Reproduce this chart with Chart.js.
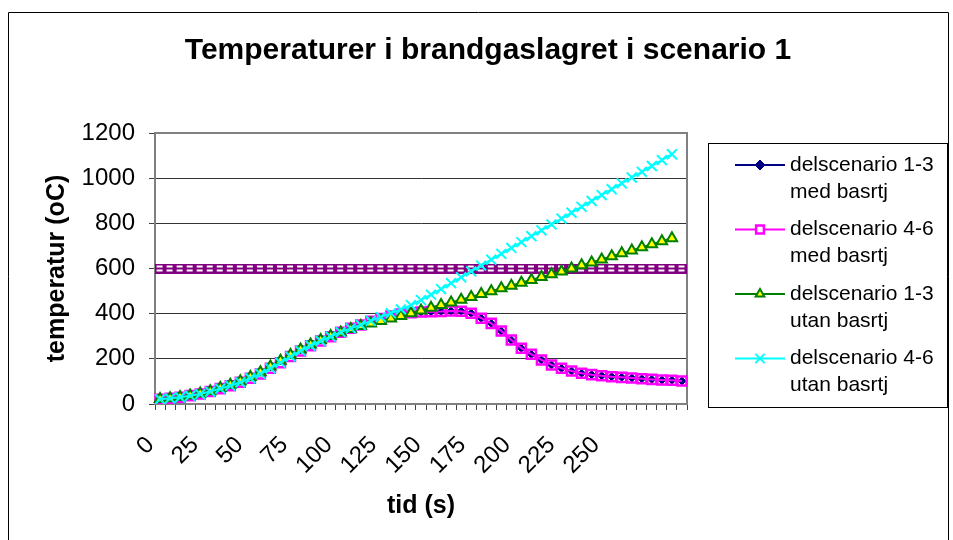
<!DOCTYPE html>
<html>
<head>
<meta charset="utf-8">
<title>Temperaturer i brandgaslagret i scenario 1</title>
<script src="https://cdn.jsdelivr.net/npm/chart.js@4/dist/chart.umd.min.js"></script>
<style>
  html, body { margin: 0; padding: 0; background: #ffffff; }
  #ram { width: 953px; height: 540px; }
</style>
</head>
<body>
<div id="ram"><canvas id="diagram" width="953" height="540"></canvas></div>
<script>
// Mätpunkter längs tidsaxeln (kategorier)
const matpunkter = [
  1, 2, 3, 4, 5, 6, 7, 8, 9, 10, 11, 12, 13, 14, 15, 16, 17, 18, 19, 20,
  21, 22, 23, 24, 25, 26, 27, 28, 29, 30, 31, 32, 33, 34, 35, 36, 37, 38, 39, 40,
  41, 42, 43, 44, 45, 46, 47, 48, 49, 50, 51, 52, 53
];

// Etiketter på tidsaxeln (s)
const tidEtiketter = [0, 25, 50, 75, 100, 125, 150, 175, 200, 225, 250];

// Etiketter på temperaturaxeln (oC)
const tempEtiketter = [0, 200, 400, 600, 800, 1000, 1200];

// Seriernas namn i förklaringen, en rad per element
const namn13Med = ['delscenario 1-3', 'med basrtj'];
const namn46Med = ['delscenario 4-6', 'med basrtj'];
const namn13Utan = ['delscenario 1-3', 'utan basrtj'];
const namn46Utan = ['delscenario 4-6', 'utan basrtj'];

// Temperatur i brandgaslagret (oC)
const delsc13Med = [
  22, 26, 31, 38, 46, 57, 71, 85, 101, 120, 141, 166, 191, 217, 241, 263, 283, 301, 318, 334,
  349, 365, 378, 389, 398, 404, 407, 409, 410, 412, 411, 402, 380, 357, 323, 283, 247, 220, 195, 173,
  158, 146, 136, 130, 125, 121, 118, 115, 112, 109, 106, 105, 102
];
const delsc46Med = [
  21, 25, 30, 37, 44, 55, 68, 81, 96, 114, 133, 158, 183, 210, 235, 258, 279, 298, 318, 335,
  350, 366, 379, 390, 398, 404, 407, 409, 410, 412, 411, 402, 380, 357, 323, 283, 247, 220, 195, 173,
  158, 146, 136, 130, 125, 121, 118, 115, 112, 109, 106, 105, 102
];
const delsc13Utan = [
  22, 26, 31, 38, 46, 57, 71, 85, 101, 120, 141, 166, 191, 217, 241, 263, 283, 301, 317, 332,
  345, 357, 368, 379, 390, 402, 414, 426, 438, 450, 462, 474, 487, 499, 512, 524, 537, 549, 562, 574,
  587, 600, 614, 627, 640, 654, 667, 680, 694, 707, 721, 734
];
const delsc46Utan = [
  21, 25, 30, 37, 44, 55, 68, 81, 96, 114, 133, 158, 183, 210, 235, 258, 279, 298, 318, 335,
  350, 368, 385, 402, 419, 438, 460, 484, 509, 535, 561, 587, 613, 639, 665, 691, 717, 743, 769, 795,
  821, 847, 873, 899, 925, 951, 977, 1003, 1028, 1054, 1080, 1106
];
// Gränsvärde 600 oC
const gransTemp = [
  600, 600, 600, 600, 600, 600, 600, 600, 600, 600, 600, 600, 600, 600, 600, 600, 600, 600, 600, 600,
  600, 600, 600, 600, 600, 600, 600, 600, 600, 600, 600, 600, 600, 600, 600, 600, 600, 600, 600, 600,
  600, 600, 600, 600, 600, 600, 600, 600, 600, 600, 600, 600, 600
];

const FONT = '"Liberation Sans", Arial, Helvetica, sans-serif';

// Ihålig fyrkant med streck genom mitten för gränsvärdeslinjen
function gransMarkor() {
  const c = document.createElement('canvas');
  c.width = 11; c.height = 10;
  const g = c.getContext('2d');
  g.fillStyle = '#800080';
  g.fillRect(0, 0, 11, 10);
  g.fillStyle = '#ffffff';
  g.fillRect(2, 2, 6, 2);
  g.fillRect(2, 6, 6, 2);
  return c;
}

// Ram, rubrik och förklaringsruta
const ramOchForklaring = {
  id: 'ramOchForklaring',
  afterDraw(chart, args, o) {
    const ctx = chart.ctx;
    ctx.save();
    // yttre ram
    ctx.strokeStyle = '#000000';
    ctx.lineWidth = 1;
    ctx.beginPath();
    ctx.moveTo(o.ram.left + 0.5, chart.height + 2);
    ctx.lineTo(o.ram.left + 0.5, o.ram.top + 0.5);
    ctx.lineTo(o.ram.right + 0.5, o.ram.top + 0.5);
    ctx.lineTo(o.ram.right + 0.5, chart.height + 2);
    ctx.stroke();

    // rubrik
    ctx.fillStyle = '#000000';
    ctx.font = 'bold ' + o.rubrik.size + 'px ' + FONT;
    ctx.textAlign = 'center';
    ctx.textBaseline = 'middle';
    ctx.fillText(o.rubrik.text, o.rubrik.x, o.rubrik.y);

    // förklaringsruta
    const f = o.forklaring;
    ctx.strokeStyle = '#000000';
    ctx.lineWidth = 1;
    ctx.strokeRect(f.left + 0.5, f.top + 0.5, f.width, f.height);
    let y = f.firstY;
    chart.data.datasets.forEach(ds => {
      if (!ds.namnRader) return;
      ctx.strokeStyle = ds.borderColor;
      ctx.lineWidth = ds.borderWidth;
      ctx.beginPath();
      ctx.moveTo(f.lineX0, y);
      ctx.lineTo(f.lineX1, y);
      ctx.stroke();
      ctx.fillStyle = ds.legendFill || ds.pointBackgroundColor;
      ctx.strokeStyle = ds.pointBorderColor;
      ctx.lineWidth = ds.pointBorderWidth;
      Chart.helpers.drawPoint(ctx, {
        pointStyle: ds.pointStyle,
        radius: ds.legendRadius,
        borderWidth: ds.pointBorderWidth,
        rotation: 0
      }, (f.lineX0 + f.lineX1) / 2, y);
      ctx.fillStyle = '#000000';
      ctx.font = f.size + 'px ' + FONT;
      ctx.textAlign = 'left';
      ctx.textBaseline = 'middle';
      ds.namnRader.forEach((t, k) => ctx.fillText(t, f.textX, y + k * f.lineStep));
      y += f.itemStep;
    });
    ctx.restore();
  }
};

// Ram runt ritytan (över- och högerkant)
const ritytaRam = {
  id: 'ritytaRam',
  beforeDatasetsDraw(chart) {
    const {ctx, chartArea: a} = chart;
    ctx.save();
    ctx.strokeStyle = '#808080';
    ctx.lineWidth = 2;
    ctx.beginPath();
    ctx.moveTo(a.left, a.top);
    ctx.lineTo(a.right, a.top);
    ctx.lineTo(a.right, a.bottom);
    ctx.stroke();
    ctx.restore();
  }
};

const serie = (label, namnRader, data, color, extra) => Object.assign({
  label: label,
  namnRader: namnRader,
  data: data,
  borderColor: color,
  borderWidth: 2,
  pointBorderColor: color,
  pointBackgroundColor: color,
  pointBorderWidth: 2,
  fill: false,
  tension: 0,
  spanGaps: false
}, extra);

new Chart(document.getElementById('diagram'), {
  type: 'line',
  data: {
    labels: matpunkter,
    datasets: [
      serie(namn13Med.join(' '), namn13Med, delsc13Med, '#000080', {
        pointStyle: 'rectRot', pointRadius: 4, pointBorderWidth: 1, legendRadius: 5, order: 4
      }),
      serie(namn46Med.join(' '), namn46Med, delsc46Med, '#FF00FF', {
        pointStyle: 'rect', pointRadius: 6.4, pointBorderWidth: 2.5,
        pointBackgroundColor: 'rgba(255,255,255,0)', legendFill: '#ffffff', legendRadius: 5.5, order: 3
      }),
      serie(namn13Utan.join(' '), namn13Utan, delsc13Utan, '#008000', {
        pointStyle: 'triangle', pointRadius: 6, pointBackgroundColor: '#FFFF00', legendRadius: 5, order: 2
      }),
      serie(namn46Utan.join(' '), namn46Utan, delsc46Utan, '#00FFFF', {
        pointStyle: 'crossRot', pointRadius: 7, legendRadius: 6.5, order: 1
      }),
      {
        label: 'gränsvärde',
        data: gransTemp,
        borderColor: '#800080',
        borderWidth: 2,
        pointStyle: gransMarkor(),
        pointRadius: 5,
        fill: false,
        order: 5
      }
    ]
  },
  options: {
    responsive: false,
    animation: false,
    devicePixelRatio: 1,
    layout: { padding: { left: 20, top: 133, right: 266, bottom: 8 } },
    plugins: {
      legend: { display: false },
      title: { display: false },
      tooltip: { enabled: false },
      ramOchForklaring: {
        ram: { left: 8, top: 12, right: 948 },
        rubrik: { text: 'Temperaturer i brandgaslagret i scenario 1', size: 30, x: 488, y: 51 },
        forklaring: {
          left: 708, top: 143, width: 239, height: 264,
          firstY: 165, itemStep: 64.5, lineStep: 27,
          lineX0: 735, lineX1: 785, textX: 790, size: 21
        }
      }
    },
    scales: {
      x: {
        type: 'category',
        offset: true,
        grid: { offset: true, drawOnChartArea: false, drawTicks: true, tickLength: 6, color: '#404040', lineWidth: 1 },
        border: { display: true, color: '#808080', width: 2 },
        ticks: { display: false },
        afterFit: s => { s.height = 7; }
      },
      xt: {
        type: 'linear',
        position: 'bottom',
        min: 2.525,
        max: 301.06,
        grid: { display: false, drawTicks: false },
        border: { display: false },
        afterBuildTicks: s => { s.ticks = tidEtiketter.map(v => ({ value: v })); },
        ticks: {
          autoSkip: false, minRotation: 45, maxRotation: 45, padding: 20,
          color: '#000000', font: { family: FONT, size: 24 },
          callback: v => String(v)
        },
        title: {
          display: true, text: 'tid (s)', color: '#000000',
          font: { family: FONT, size: 25, weight: 'bold' },
          padding: { top: 0, bottom: 11 }
        },
        afterFit: s => { s.height = 121; }
      },
      y: {
        min: 0,
        max: 1200,
        afterBuildTicks: s => { s.ticks = tempEtiketter.map(v => ({ value: v })); },
        grid: { color: '#333333', lineWidth: 1, tickLength: 6, tickColor: '#404040' },
        border: { display: true, color: '#808080', width: 2 },
        ticks: { padding: 14, color: '#000000', font: { family: FONT, size: 24 }, callback: v => String(v) },
        title: {
          display: true, text: 'temperatur (oC)', color: '#000000',
          font: { family: FONT, size: 25, weight: 'bold' },
          padding: { top: 22, bottom: 0 }
        },
        afterFit: s => { s.width = 135; }
      }
    }
  },
  plugins: [ritytaRam, ramOchForklaring]
});
</script>
</body>
</html>
